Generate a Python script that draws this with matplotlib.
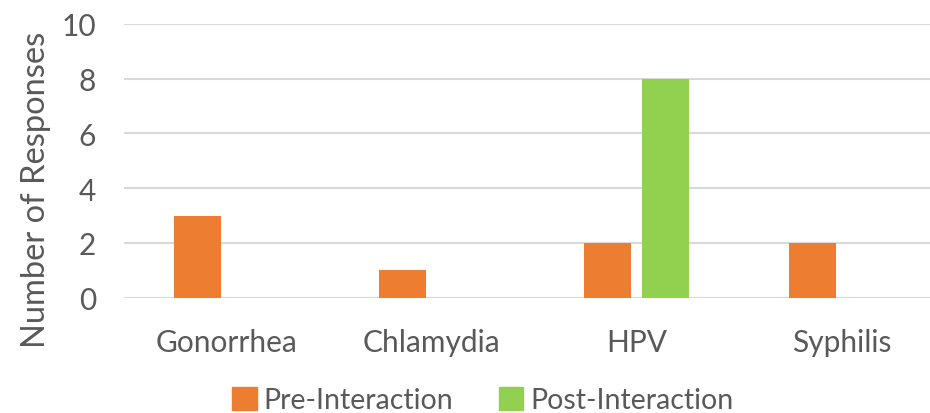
import matplotlib
matplotlib.use("Agg")
import matplotlib.pyplot as plt
import numpy as np
from matplotlib.patches import Patch

categories = ["Gonorrhea", "Chlamydia", "HPV", "Syphilis"]
pre_values = [3, 1, 2, 2]
post_values = [0, 0, 8, 0]
series_names = ["Pre-Interaction", "Post-Interaction"]

ORANGE = "#ED7D31"
GREEN = "#92D050"
TEXT = "#595959"
GRID = "#D9D9D9"

plt.rcParams['font.family'] = ['Lato', 'DejaVu Sans']

W, H = 930, 414
fig = plt.figure(figsize=(W / 100, H / 100), dpi=100)
left, right = 124, 944
top, bottom = 25, 298.7
ax = fig.add_axes([left / W, 1 - bottom / H, (right - left) / W, (bottom - top) / H])

x = np.arange(len(categories))
bw = 0.227
off = 0.142
ax.bar(x - off, pre_values, bw, color=ORANGE, zorder=3)
ax.bar(x + off, post_values, bw, color=GREEN, zorder=3)

ax.set_xlim(-0.5, len(categories) - 0.5)
ax.set_ylim(0, 10)
ax.set_yticks(range(0, 11, 2))
ax.yaxis.grid(True, color=GRID, linewidth=1.5, zorder=0)
ax.set_axisbelow(True)
for s in ax.spines.values():
    s.set_visible(False)
ax.tick_params(axis='both', length=0, colors=TEXT, labelsize=21.5)
ax.tick_params(axis='y', pad=20)
ax.tick_params(axis='x', pad=22)
ax.set_xticks(x)
ax.set_xticklabels(categories)
ax.set_ylabel("Number of Responses", fontsize=23.5, color=TEXT)
ax.yaxis.set_label_coords(-(124 - 51) / (right - left), (bottom - 190) / (bottom - top))

handles = [Patch(color=ORANGE), Patch(color=GREEN)]
fig.legend(handles, series_names, loc='center', bbox_to_anchor=(483 / W, 1 - 401 / H),
           ncol=2, frameon=False, fontsize=20.5, labelcolor=TEXT,
           handlelength=0.85, handleheight=0.85, handletextpad=0.25, columnspacing=1.6)

fig.savefig("out.png", dpi=100)
